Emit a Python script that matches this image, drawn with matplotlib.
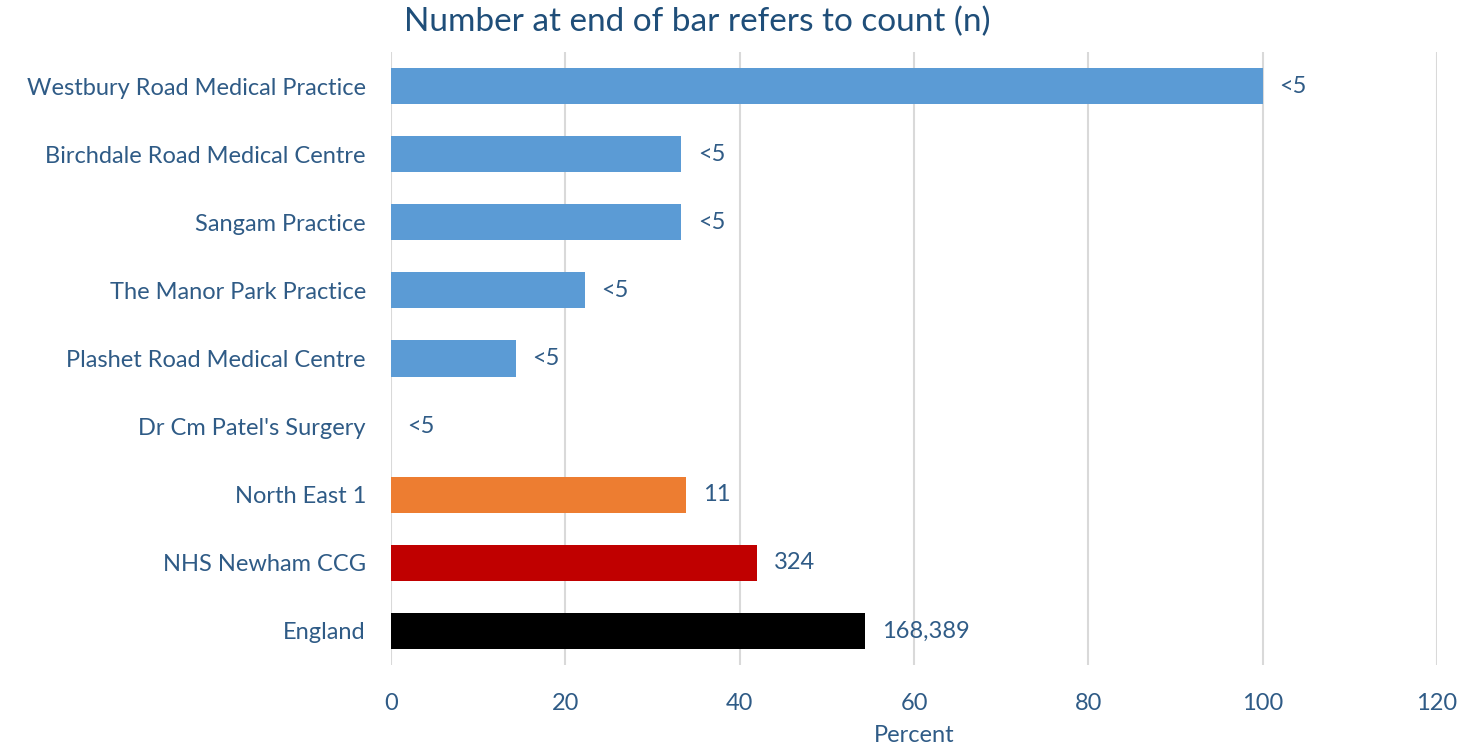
import matplotlib
matplotlib.use("Agg")
import matplotlib.pyplot as plt

practices = ["Westbury Road Medical Practice", "Birchdale Road Medical Centre",
             "Sangam Practice", "The Manor Park Practice", "Plashet Road Medical Centre",
             "Dr Cm Patel's Surgery", "North East 1", "NHS Newham CCG", "England"]
percent = [100, 33.3, 33.3, 22.2, 14.3, 0, 33.9, 42.0, 54.4]
counts = ["<5", "<5", "<5", "<5", "<5", "<5", "11", "324", "168,389"]
colours = ["#5B9BD5"] * 6 + ["#ED7D31", "#C00000", "#000000"]

txt = "#2F5B86"
plt.rcParams['font.family'] = ['Lato', 'DejaVu Sans']
fs = 17

fig = plt.figure(figsize=(14.63, 7.54), dpi=100)
ax = fig.add_axes([391/1463, 1 - 665/754, (1437-391)/1463, (665-52)/754])

y = list(range(len(practices)))
ax.barh(y, percent, height=0.53, color=colours, zorder=3)
for yi, p, c in zip(y, percent, counts):
    ax.text(p + 1.9, yi, c, va='center', ha='left', fontsize=fs, color=txt)

ax.set_ylim(len(practices) - 0.5, -0.5)
ax.set_xlim(0, 120)
ax.set_xticks(range(0, 121, 20))
ax.set_yticks(y)
ax.set_yticklabels(practices)
ax.tick_params(axis='both', length=0, labelsize=fs, labelcolor=txt)
ax.tick_params(axis='y', pad=18)
ax.tick_params(axis='x', pad=20)
ax.grid(axis='x', color='#D9D9D9', linewidth=1.5, zorder=0)
for s in ax.spines.values():
    s.set_visible(False)
ax.set_xlabel("Percent", fontsize=fs, color=txt, labelpad=8)

fig.text(697/1463, 1 - 22/754, "Number at end of bar refers to count (n)",
         ha='center', va='center', fontsize=24, color="#1F4E79")

fig.savefig("out.png", dpi=100)
